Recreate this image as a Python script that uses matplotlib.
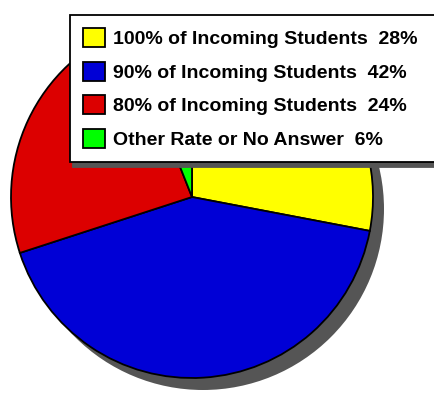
import matplotlib
matplotlib.use("Agg")
import matplotlib.pyplot as plt
from matplotlib.patches import Circle

plt.rcParams['font.family'] = ['Liberation Sans', 'DejaVu Sans']

labels = ['100% of Incoming Students', '90% of Incoming Students',
          '80% of Incoming Students', 'Other Rate or No Answer']
shares = [28, 42, 24, 6]
colors = ['#FFFF00', '#0000D6', '#DC0000', '#00FF00']

W, H = 434, 393
fig = plt.figure(figsize=(W / 100, H / 100), dpi=100)
ax = fig.add_axes([0, 0, 1, 1])

cx, cy, r = 192, H - 197, 181

# drop shadow under the pie
ax.add_patch(Circle((cx + 11, cy - 12), r, facecolor='#555555', edgecolor='none', zorder=0))

wedges, _ = ax.pie(shares, colors=colors, startangle=90, counterclock=False,
                   center=(cx, cy), radius=r, frame=True,
                   wedgeprops=dict(edgecolor='black', linewidth=1.3))
for w in wedges:
    w.set_zorder(2)

ax.set_xlim(0, W)
ax.set_ylim(0, H)
ax.set_aspect('equal')
ax.axis('off')

leg_labels = ['%s  %d%%' % (l, s) for l, s in zip(labels, shares)]
fs = 14
x0, y0 = 70 / W, (H - 160) / H
leg = fig.legend(wedges, leg_labels, loc='upper left',
                 bbox_to_anchor=(x0, y0, (460 - 70) / W, 145 / H),
                 mode='expand', borderaxespad=0, fancybox=False, framealpha=1,
                 edgecolor='black', prop=dict(weight='bold', size=fs),
                 handlelength=1.13, handleheight=1.13, handletextpad=0.4,
                 borderpad=0.68, labelspacing=0.69,
                 shadow=dict(ox=2.2, oy=-3.6, color='#555555', alpha=1))
leg.get_frame().set_linewidth(1.3)
for h in leg.legend_handles:
    h.set_edgecolor('black')
    h.set_linewidth(1.3)

fig.savefig('out.png', dpi=100)
